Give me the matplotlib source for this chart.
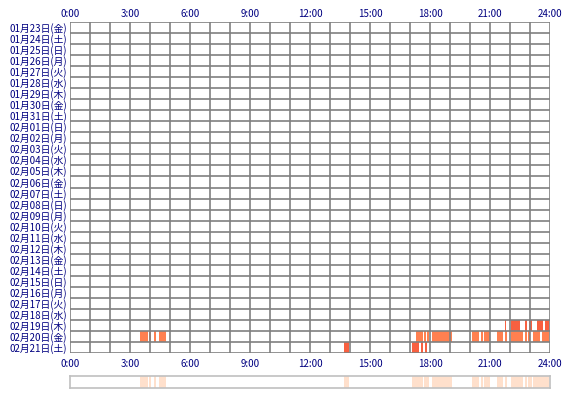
import matplotlib
matplotlib.use('Agg')
import matplotlib.pyplot as plt
import datetime

plt.rcParams['font.family'] = ['Noto Sans CJK JP', 'DejaVu Sans']

# days shown, top to bottom
start = datetime.date(2015, 1, 23)
weekdays = ['月', '火', '水', '木', '金', '土', '日']
days = [start + datetime.timedelta(d) for d in range(30)]
day_labels = ['%02d月%02d日(%s)' % (d.month, d.day, weekdays[d.weekday()]) for d in days]

# activity intervals in hours, keyed by row index
act_0219 = [(21.75, 21.8), (22.03, 22.5), (22.75, 22.83), (22.93, 23.08), (23.33, 23.67), (23.75, 23.97)]
act_0220 = [(3.5, 3.92), (3.97, 4.03), (4.2, 4.28), (4.45, 4.8),
            (17.3, 17.63), (17.7, 17.8), (17.87, 17.97), (18.08, 19.08),
            (20.08, 20.47), (20.53, 20.63), (20.7, 21.0), (21.33, 21.63), (21.75, 21.87),
            (22.03, 22.67), (22.75, 22.83), (22.9, 23.0), (23.17, 23.5), (23.58, 23.97)]
act_0221 = [(13.7, 13.97), (17.08, 17.47), (17.55, 17.67), (17.73, 17.87)]
activity = {27: (act_0219, '#f86040'), 28: (act_0220, '#ff8050'), 29: (act_0221, '#f86040')}

xticks = [0, 3, 6, 9, 12, 15, 18, 21, 24]
xlabels = ['%d:00' % h for h in xticks]
navy = '#000080'

fig = plt.figure(figsize=(5.7, 4.0), dpi=100)
ax = fig.add_axes([70 / 570, 1 - 353 / 400, 480 / 570, 331 / 400])
n = len(days)
for row, (ivs, col) in activity.items():
    for a, b in ivs:
        ax.broken_barh([(a, b - a)], (row, 1), facecolors=col, edgecolor='none', zorder=1)
for h in range(25):
    ax.axvline(h, color='#808080', lw=1.2, zorder=2)
for r in range(n + 1):
    ax.axhline(r, color='#808080', lw=1.2, zorder=2)
ax.set_xlim(0, 24)
ax.set_ylim(n, 0)
ax.set_yticks([i + 0.5 for i in range(n)])
ax.set_yticklabels(day_labels, fontsize=7, color=navy)
ax.set_xticks(xticks)
ax.set_xticklabels(xlabels, fontsize=7, color=navy)
ax.tick_params(length=0, pad=2)
ax.xaxis.tick_top()
ax2 = ax.secondary_xaxis('bottom')
ax2.set_xticks(xticks)
ax2.set_xticklabels(xlabels, fontsize=7, color=navy)
ax2.tick_params(length=0, pad=4)
ax2.spines['bottom'].set_visible(False)
for s in ax.spines.values():
    s.set_visible(False)

# summary strip
sx = fig.add_axes([70 / 570, 1 - 388 / 400, 480 / 570, 12 / 400])
for ivs, col in activity.values():
    for a, b in ivs:
        sx.broken_barh([(a, b - a)], (0, 1), facecolors='#ffe0cc', edgecolor='none')
sx.set_xlim(0, 24)
sx.set_ylim(0, 1)
sx.set_xticks([])
sx.set_yticks([])
for s in sx.spines.values():
    s.set_color('#c0c0c0')
    s.set_linewidth(1.2)

fig.savefig('out.png')
